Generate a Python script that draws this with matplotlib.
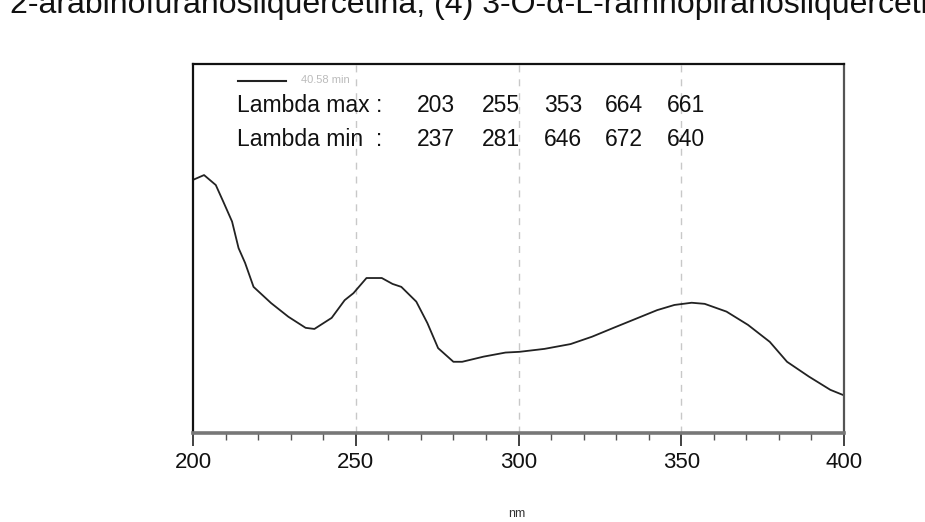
import matplotlib
matplotlib.use("Agg")
import matplotlib.pyplot as plt
from matplotlib.ticker import MultipleLocator

plt.rcParams['font.family'] = ['Liberation Sans', 'DejaVu Sans']

# Spectrum data (wavelength nm, absorbance a.u.)
wavelength = [200, 203.4, 207, 209.3, 212, 214, 216, 218.6, 224, 229.3, 234.6, 237.3,
              242.6, 246.6, 249.3, 253.3, 258, 261.3, 264, 268.6, 272, 275.3, 280,
              282.7, 289.3, 296, 300.3, 308, 316, 322.6, 329.2, 335.9, 342.6, 347.9,
              353.2, 357.2, 363.9, 370.5, 377.2, 382.5, 389.2, 395.8, 400]
absorbance = [0.686, 0.699, 0.672, 0.627, 0.573, 0.501, 0.461, 0.396, 0.352, 0.315,
              0.285, 0.282, 0.312, 0.360, 0.379, 0.420, 0.420, 0.404, 0.396, 0.356,
              0.298, 0.230, 0.193, 0.193, 0.207, 0.218, 0.220, 0.228, 0.241, 0.261,
              0.285, 0.309, 0.333, 0.347, 0.353, 0.350, 0.329, 0.293, 0.247, 0.193,
              0.153, 0.117, 0.102]

lambda_max = [203, 255, 353, 664, 661]
lambda_min = [237, 281, 646, 672, 640]
legend_label = "40.58 min"
x_ticks = [200, 250, 300, 350, 400]
grid_lines = [250, 300, 350]
title_text = "2-arabinofuranosilquercetina, (4) 3-O-\u03b1-L-ramnopiranosilquercetina"
xlabel_text = "nm"

W, H = 925, 522
fig = plt.figure(figsize=(W / 100, H / 100), dpi=100)
L, R, T, B = 193, 844, 64, 433
ax = fig.add_axes([L / W, (H - B) / H, (R - L) / W, (B - T) / H])

ax.plot(wavelength, absorbance, color='#222222', lw=1.3)
ax.set_xlim(200, 400)
ax.set_ylim(0, 1)

for g in grid_lines:
    ax.axvline(g, color='#c8c8c8', lw=1.0, ls=(0, (5, 5)), zorder=0)

ax.set_xticks(x_ticks)
ax.xaxis.set_minor_locator(MultipleLocator(10))
ax.set_yticks([])
ax.tick_params(axis='x', which='major', direction='out', length=9, width=1.3,
               color='#333333', labelsize=16, pad=5, labelcolor='#111111')
ax.tick_params(axis='x', which='minor', direction='out', length=5, width=1.0,
               color='#555555')

ax.spines['left'].set_color('#111111')
ax.spines['left'].set_linewidth(1.6)
ax.spines['top'].set_color('#111111')
ax.spines['top'].set_linewidth(1.6)
ax.spines['right'].set_color('#555555')
ax.spines['right'].set_linewidth(1.6)
ax.spines['bottom'].set_color('#777777')
ax.spines['bottom'].set_linewidth(2.6)

def fx(px):
    return (px - L) / (R - L)

def fy(py):
    return (B - py) / (B - T)

# legend line and faint label
ax.plot([fx(238), fx(286)], [fy(81), fy(81)], transform=ax.transAxes,
        color='#222222', lw=1.5, clip_on=False)
ax.text(fx(301), fy(80), legend_label, transform=ax.transAxes, fontsize=8,
        color='#bbbbbb', va='center', ha='left')

col_x = [436, 501, 563, 624, 686]
rows = [("Lambda max :", lambda_max, 106), ("Lambda min  :", lambda_min, 140)]
for label, vals, py in rows:
    ax.text(fx(237), fy(py), label, transform=ax.transAxes, fontsize=16.5,
            color='#111111', va='center', ha='left')
    for cx, v in zip(col_x, vals):
        ax.text(fx(cx), fy(py), str(v), transform=ax.transAxes, fontsize=16.5,
                color='#111111', va='center', ha='center')

fig.text(10 / W, 1 - 13 / H, title_text, fontsize=23, color='#111111',
         va='baseline', ha='left')
fig.text(517 / W, 1 - 514 / H, xlabel_text, fontsize=9, color='#333333',
         va='center', ha='center')

fig.savefig("out.png", dpi=100)
